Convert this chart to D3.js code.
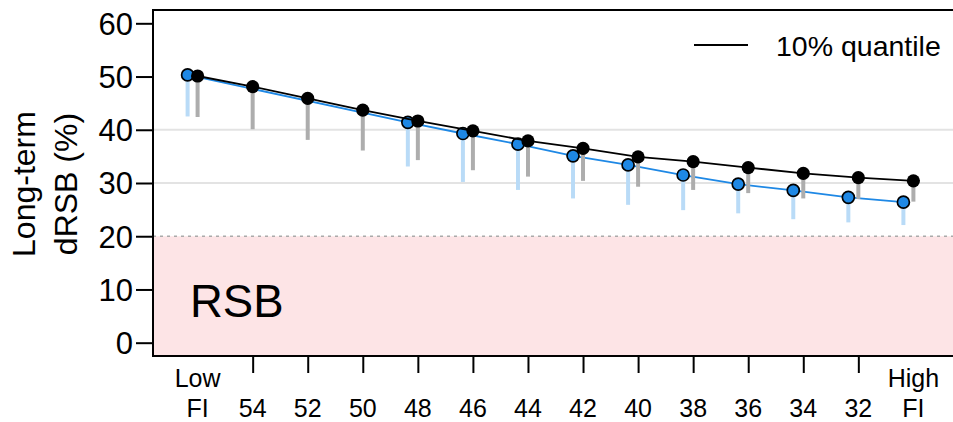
<!DOCTYPE html>
<html>
<head>
<meta charset="utf-8">
<script src="https://cdn.jsdelivr.net/npm/d3@7"></script>
<style>
  html, body { margin: 0; padding: 0; background: #fff; }
  svg { display: block; font-family: "Liberation Sans", Arial, sans-serif; }
</style>
</head>
<body>
<svg id="chart" width="953" height="422"></svg>
<script>
// ---- data ----
const categories = ["Low\nFI", "54", "52", "50", "48", "46", "44", "42", "40", "38", "36", "34", "32", "High\nFI"];
const yTicks = [0, 10, 20, 30, 40, 50, 60];
const gridValues = [30, 40];
const rsbThreshold = 20;
const legendLabel = "10% quantile";
const zoneLabel = "RSB";

// black series (points) and lower end of its vertical segments
const blackValues = [50.1, 48.1, 45.9, 43.7, 41.65, 39.8, 37.9, 36.5, 34.9, 34.0, 32.9, 31.8, 31.0, 30.4];
const blackLow    = [42.4, 40.1, 38.1, 36.1, 34.3, 32.4, 31.2, 30.4, 29.3, 28.7, 28.1, 27.1, 27.0, 26.5];
// blue series (points) and lower end of its vertical segments
const blueValues  = [50.3, null, null, null, 41.4, 39.3, 37.3, 35.1, 33.4, 31.5, 29.8, 28.6, 27.3, 26.4];
const blueLow     = [42.5, null, null, null, 33.1, 30.2, 28.7, 27.1, 25.9, 24.9, 24.3, 23.2, 22.6, 22.1];

// ---- layout ----
const svg = d3.select("#chart");
const L = 153, T = 10, B = 356;
const x = d3.scaleLinear().domain([-0.81, categories.length - 1 + 0.81]).range([L, 958]);
const y = d3.scaleLinear().domain([-2.5, 62.5]).range([B, T]);
const blueShift = -10;
const font = "Liberation Sans, Arial, sans-serif";

// clip for plot area
svg.append("clipPath").attr("id", "plotclip")
  .append("rect").attr("x", L).attr("y", T).attr("width", 958 - L).attr("height", B - T);
const plot = svg.append("g").attr("clip-path", "url(#plotclip)");

// RSB zone
plot.append("rect")
  .attr("x", L).attr("y", y(rsbThreshold))
  .attr("width", 958 - L).attr("height", B - y(rsbThreshold))
  .attr("fill", "#fde4e6");
plot.append("line")
  .attr("x1", L).attr("x2", 958)
  .attr("y1", y(rsbThreshold)).attr("y2", y(rsbThreshold))
  .attr("stroke", "#aaaaaa").attr("stroke-width", 1.6).attr("stroke-dasharray", "3,4");

// grid
plot.selectAll("line.grid").data(gridValues).enter().append("line")
  .attr("class", "grid")
  .attr("x1", L).attr("x2", 958)
  .attr("y1", d => y(d)).attr("y2", d => y(d))
  .attr("stroke", "#e3e3e3").attr("stroke-width", 2);

plot.append("text")
  .attr("x", 190).attr("y", 317)
  .attr("font-size", 45.5).attr("font-family", font).attr("fill", "#000")
  .text(zoneLabel);

// blue series
const blueIdx = d3.range(categories.length).filter(i => blueValues[i] != null);
plot.selectAll("line.bbar").data(blueIdx).enter().append("line")
  .attr("x1", i => x(i) + blueShift).attr("x2", i => x(i) + blueShift)
  .attr("y1", i => y(blueValues[i])).attr("y2", i => y(blueLow[i]))
  .attr("stroke", "#b9dbf7").attr("stroke-width", 4);
plot.append("path")
  .datum(blueIdx)
  .attr("d", d3.line().x(i => x(i) + blueShift).y(i => y(blueValues[i])))
  .attr("fill", "none").attr("stroke", "#1e88e5").attr("stroke-width", 1.8);
plot.selectAll("circle.bpt").data(blueIdx).enter().append("circle")
  .attr("cx", i => x(i) + blueShift).attr("cy", i => y(blueValues[i]))
  .attr("r", 6).attr("fill", "#1e88e5").attr("stroke", "#000").attr("stroke-width", 1.7);

// black series
const idx = d3.range(categories.length);
plot.selectAll("line.kbar").data(idx).enter().append("line")
  .attr("x1", i => x(i)).attr("x2", i => x(i))
  .attr("y1", i => y(blackValues[i])).attr("y2", i => y(blackLow[i]))
  .attr("stroke", "#adadad").attr("stroke-width", 4);
plot.append("path")
  .datum(idx)
  .attr("d", d3.line().x(i => x(i)).y(i => y(blackValues[i])))
  .attr("fill", "none").attr("stroke", "#000").attr("stroke-width", 1.8);
plot.selectAll("circle.kpt").data(idx).enter().append("circle")
  .attr("cx", i => x(i)).attr("cy", i => y(blackValues[i]))
  .attr("r", 6.6).attr("fill", "#000");

// frame
svg.append("rect")
  .attr("x", L).attr("y", T).attr("width", 958 - L).attr("height", B - T)
  .attr("fill", "none").attr("stroke", "#000").attr("stroke-width", 2);

// y axis
const yAxis = svg.append("g").attr("transform", `translate(${L},0)`)
  .call(d3.axisLeft(y).tickValues(yTicks).tickSize(17).tickPadding(3).tickFormat(d3.format("d")));
yAxis.select(".domain").remove();
yAxis.selectAll(".tick line").attr("stroke", "#000").attr("stroke-width", 2);
yAxis.selectAll(".tick text")
  .attr("font-size", 31).attr("font-family", font).attr("fill", "#000").attr("dy", "0.35em");

// x axis
const xAxis = svg.append("g").attr("transform", `translate(0,${B})`)
  .call(d3.axisBottom(x).tickValues(d3.range(1, categories.length - 1)).tickSize(17).tickFormat(""));
xAxis.select(".domain").remove();
xAxis.selectAll(".tick line").attr("stroke", "#000").attr("stroke-width", 2);

const xl = svg.append("g");
categories.forEach((c, i) => {
  const parts = c.split("\n");
  const base = 417;
  parts.slice().reverse().forEach((p, k) => {
    xl.append("text")
      .attr("x", x(i)).attr("y", base - k * 30)
      .attr("text-anchor", "middle")
      .attr("font-size", 25).attr("font-family", font).attr("fill", "#000")
      .text(p);
  });
});

// y axis title
const title = svg.append("g").attr("transform", "translate(0,184) rotate(-90)");
title.append("text").attr("x", 0).attr("y", 35).attr("text-anchor", "middle")
  .attr("font-size", 32).attr("font-family", font).attr("fill", "#000").text("Long-term");
title.append("text").attr("x", 0).attr("y", 77).attr("text-anchor", "middle")
  .attr("font-size", 32).attr("font-family", font).attr("fill", "#000").text("dRSB (%)");

// legend
svg.append("line").attr("x1", 694).attr("x2", 748).attr("y1", 45).attr("y2", 45)
  .attr("stroke", "#000").attr("stroke-width", 1.8);
svg.append("text").attr("x", 776).attr("y", 56)
  .attr("font-size", 28.5).attr("font-family", font).attr("fill", "#000").text(legendLabel);
</script>
</body>
</html>
